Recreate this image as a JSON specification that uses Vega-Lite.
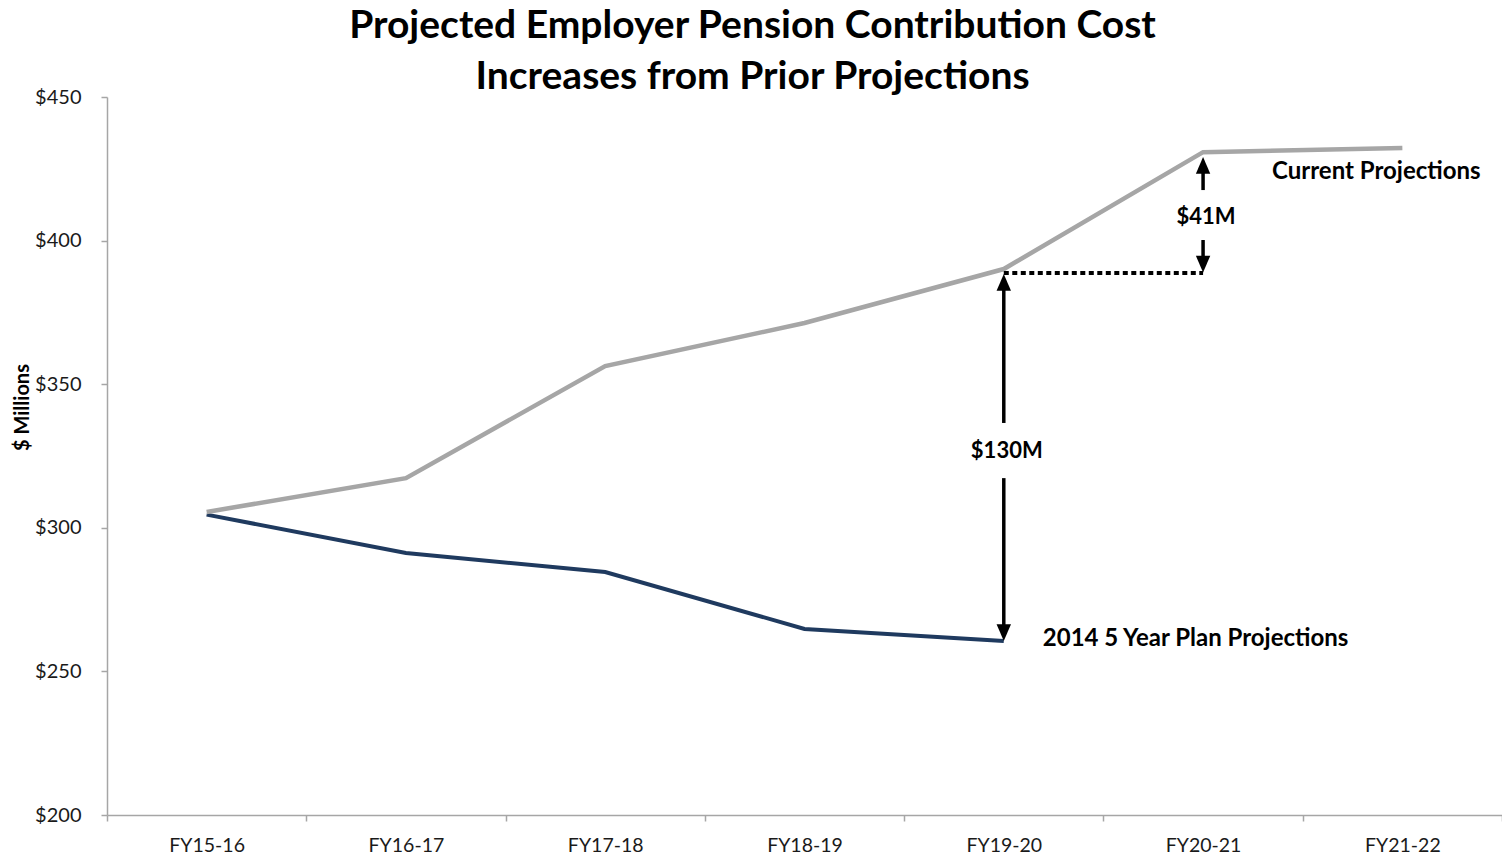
{
  "$schema": "https://vega.github.io/schema/vega-lite/v6.json",
  "width": 1395,
  "height": 718,
  "autosize": {"type": "none"},
  "padding": {"left": 107, "top": 97, "right": 0, "bottom": 44},
  "background": "white",
  "config": {"view": {"stroke": null}, "font": "Lato"},
  "title": {
    "text": ["Projected Employer Pension Contribution Cost", "Increases from Prior Projections"],
    "anchor": "middle",
    "frame": "group",
    "dx": -52,
    "offset": -10,
    "fontSize": 39,
    "fontWeight": "bold",
    "lineHeight": 51,
    "color": "#000000",
    "font": "Lato"
  },
  "datasets": {
    "lines": [
      {"series": "Current Projections", "year": "FY15-16", "value": 305.5},
      {"series": "Current Projections", "year": "FY16-17", "value": 317.3},
      {"series": "Current Projections", "year": "FY17-18", "value": 356.3},
      {"series": "Current Projections", "year": "FY18-19", "value": 371.3},
      {"series": "Current Projections", "year": "FY19-20", "value": 390.1},
      {"series": "Current Projections", "year": "FY20-21", "value": 430.8},
      {"series": "Current Projections", "year": "FY21-22", "value": 432.2},
      {"series": "2014 5 Year Plan Projections", "year": "FY15-16", "value": 304.6},
      {"series": "2014 5 Year Plan Projections", "year": "FY16-17", "value": 291.2},
      {"series": "2014 5 Year Plan Projections", "year": "FY17-18", "value": 284.6},
      {"series": "2014 5 Year Plan Projections", "year": "FY18-19", "value": 264.8},
      {"series": "2014 5 Year Plan Projections", "year": "FY19-20", "value": 260.6}
    ],
    "shafts": [
      {"year": "FY19-20", "from": 264.0, "to": 317.3},
      {"year": "FY19-20", "from": 336.5, "to": 385.0},
      {"year": "FY20-21", "from": 417.6, "to": 425.5},
      {"year": "FY20-21", "from": 392.0, "to": 400.2}
    ],
    "tips": [
      {"year": "FY19-20", "value": 260.6, "dir": "down"},
      {"year": "FY19-20", "value": 388.4, "dir": "up"},
      {"year": "FY20-21", "value": 429.1, "dir": "up"},
      {"year": "FY20-21", "value": 388.9, "dir": "down"}
    ],
    "dotted": [
      {"year": "FY19-20", "year2": "FY20-21", "value": 388.7}
    ],
    "labels": [
      {"key": "a", "year": "FY19-20", "value": 326.7, "text": "$130M"},
      {"key": "b", "year": "FY20-21", "value": 408.2, "text": "$41M"},
      {"key": "c", "year": "FY20-21", "value": 423.9, "text": "Current Projections"},
      {"key": "d", "year": "FY19-20", "value": 261.3, "text": "2014 5 Year Plan Projections"}
    ]
  },
  "encoding": {
    "x": {
      "field": "year",
      "type": "nominal",
      "scale": {
        "type": "band",
        "domain": ["FY15-16", "FY16-17", "FY17-18", "FY18-19", "FY19-20", "FY20-21", "FY21-22"],
        "paddingInner": 0,
        "paddingOuter": 0
      },
      "axis": {
        "title": null,
        "labelAngle": 0,
        "tickBand": "extent",
        "tickSize": 6,
        "tickColor": "#A6A6A6",
        "domainColor": "#A6A6A6",
        "domainWidth": 1.5,
        "tickWidth": 1.5,
        "labelFontSize": 19.5,
        "labelColor": "#1a1a1a",
        "labelPadding": 15,
        "grid": false
      }
    }
  },
  "layer": [
    {
      "data": {"name": "lines"},
      "transform": [{"filter": "datum.series === '2014 5 Year Plan Projections'"}],
      "mark": {"type": "line", "color": "#1F3A5F", "strokeWidth": 4},
      "encoding": {
        "y": {
          "field": "value",
          "type": "quantitative",
          "scale": {"domain": [200, 450], "nice": false, "zero": false},
          "axis": {
            "title": "$ Millions",
            "titleFontSize": 20,
            "titleFontWeight": "bold",
            "titleColor": "#000000",
            "titleAngle": 270,
            "titleX": -85,
            "titleY": 310,
            "titleAlign": "center",
            "titleBaseline": "middle",
            "values": [200, 250, 300, 350, 400, 450],
            "labelExpr": "'$' + datum.value",
            "labelFontSize": 20,
            "labelColor": "#1a1a1a",
            "labelPadding": 20,
            "tickSize": 6,
            "tickColor": "#A6A6A6",
            "domainColor": "#A6A6A6",
            "domainWidth": 1.5,
            "tickWidth": 1.5,
            "grid": false
          }
        }
      }
    },
    {
      "data": {"name": "lines"},
      "transform": [{"filter": "datum.series === 'Current Projections'"}],
      "mark": {"type": "line", "color": "#A6A6A6", "strokeWidth": 4.5},
      "encoding": {
        "y": {"field": "value", "type": "quantitative"}
      }
    },
    {
      "data": {"name": "shafts"},
      "mark": {"type": "rule", "color": "#000000", "strokeWidth": 3.5},
      "encoding": {
        "y": {"field": "from", "type": "quantitative"},
        "y2": {"field": "to"}
      }
    },
    {
      "data": {"name": "dotted"},
      "mark": {"type": "rule", "color": "#000000", "strokeWidth": 4, "strokeDash": [5, 3.5]},
      "encoding": {
        "x2": {"field": "year2"},
        "y": {"field": "value", "type": "quantitative"}
      }
    },
    {
      "data": {"name": "tips"},
      "mark": {"type": "point", "filled": true, "color": "#000000", "opacity": 1, "size": 64},
      "encoding": {
        "y": {"field": "value", "type": "quantitative"},
        "shape": {
          "field": "dir",
          "type": "nominal",
          "scale": {"domain": ["up", "down"], "range": ["M0,0L-1.8,4.2L1.8,4.2Z", "M0,0L-1.8,-4.2L1.8,-4.2Z"]},
          "legend": null
        }
      }
    },
    {
      "data": {"name": "labels"},
      "transform": [{"filter": "datum.key === 'a' || datum.key === 'b'"}],
      "mark": {"type": "text", "align": "center", "baseline": "middle", "fontSize": 22, "fontWeight": "bold", "color": "#000000", "dx": 3},
      "encoding": {
        "y": {"field": "value", "type": "quantitative"},
        "text": {"field": "text"}
      }
    },
    {
      "data": {"name": "labels"},
      "transform": [{"filter": "datum.key === 'c'"}],
      "mark": {"type": "text", "align": "left", "baseline": "middle", "fontSize": 24, "fontWeight": "bold", "color": "#000000", "dx": 69},
      "encoding": {
        "y": {"field": "value", "type": "quantitative"},
        "text": {"field": "text"}
      }
    },
    {
      "data": {"name": "labels"},
      "transform": [{"filter": "datum.key === 'd'"}],
      "mark": {"type": "text", "align": "left", "baseline": "middle", "fontSize": 24, "fontWeight": "bold", "color": "#000000", "dx": 39},
      "encoding": {
        "y": {"field": "value", "type": "quantitative"},
        "text": {"field": "text"}
      }
    }
  ]
}
